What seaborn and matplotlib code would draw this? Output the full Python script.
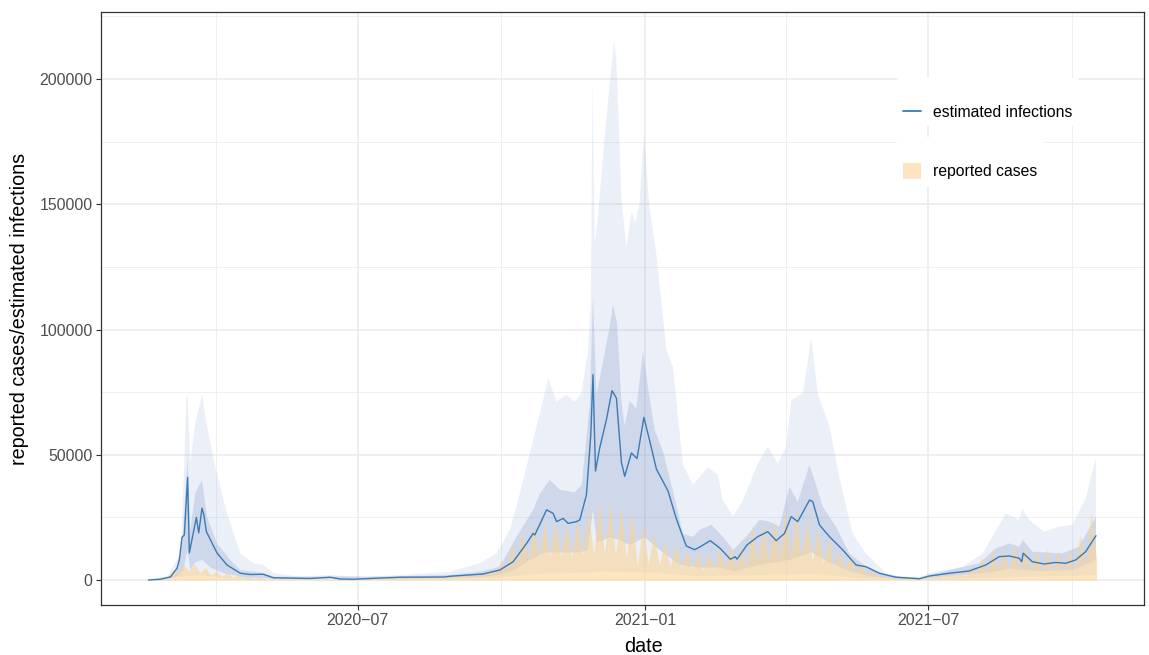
import numpy as np
import pandas as pd
import matplotlib
matplotlib.use("Agg")
import matplotlib.pyplot as plt
import matplotlib.dates as mdates
from matplotlib.lines import Line2D
from matplotlib.patches import Patch
import seaborn as sns

# Series start (day 0); all *_day lists are day offsets from it
start = pd.Timestamp("2020-02-18")

# Estimated infections (median line)
line_day = [0, 7.7, 14.1, 18.3, 19.8, 21.5, 23.0, 25.1, 26.2, 30.7, 32.2, 34.3, 35.5, 37.1,
            43.9, 50.3, 58.8, 65.2, 73.5, 79.9, 103.6, 116.3, 122.7, 131.0, 161.1, 189.9,
            193.0, 214.3, 225.0, 233.5, 242.1, 246.3, 247.4, 254.9, 259.1, 261.3, 265.5,
            268.7, 274.0, 276.2, 280.4, 283.2, 284.6, 286.2, 288.9, 293.2, 296.8, 299.6,
            302.8, 304.9, 309.2, 312.8, 317.2, 320.9, 325.2, 332.6, 338.0, 344.3, 349.7,
            353.3, 359.7, 366.1, 372.5, 375.7, 376.8, 383.2, 390.1, 396.5, 401.9, 407.2,
            411.5, 415.7, 423.2, 425.3, 429.6, 436.0, 444.5, 453.0, 459.4, 467.9, 478.6,
            493.5, 499.9, 512.7, 525.4, 536.1, 544.6, 551.0, 557.4, 559.1, 560.0, 565.9,
            573.4, 580.9, 587.3, 593.6, 600.0, 606.6]
line_val = [0, 300, 1200, 4700, 8000, 17000, 18000, 41000, 10800, 25000, 18800, 28700, 26000,
            19300, 10800, 6000, 2700, 2200, 2300, 900, 600, 1100, 400, 300, 1100, 1200,
            1500, 2400, 4000, 7300, 14600, 18600, 18000, 28000, 26600, 23300, 24600,
            22600, 23300, 24000, 34000, 58000, 82000, 43500, 52700, 64000, 75600, 72600,
            47000, 41400, 50700, 48500, 64900, 55600, 44300, 35600, 24400, 13600, 12100,
            13300, 15700, 12600, 8300, 9300, 8300, 14000, 17300, 19300, 15700, 18600,
            25300, 23300, 31900, 31300, 22000, 17300, 12000, 6000, 5300, 2700, 1100,
            500, 1600, 2700, 3600, 6000, 9300, 9600, 8700, 7300, 10700, 7300,
            6400, 7000, 6700, 8000, 11300, 17700]

# 90% interval, upper and lower bound
hi90_day = [0, 12.0, 20.5, 22.6, 24.3, 25.1, 26.8, 30.0, 34.3, 37.5, 42.8, 50.3, 58.8, 67.3,
            73.7, 80.1, 97.2, 116.3, 139.8, 161.1, 193.0, 212.2, 222.9, 231.4, 237.8, 244.2,
            250.6, 255.9, 261.3, 267.6, 272.9, 277.2, 281.5, 283.2, 284.3, 285.7, 287.8,
            292.1, 295.3, 298.1, 299.6, 302.8, 306.0, 309.2, 311.9, 314.5, 317.2, 320.9,
            325.2, 331.6, 335.8, 342.2, 348.6, 358.2, 364.5, 367.8, 374.2, 380.6, 390.1,
            396.5, 402.9, 408.3, 411.5, 418.9, 424.3, 428.5, 436.0, 442.3, 450.8, 459.4,
            472.2, 480.7, 493.5, 499.9, 521.2, 534.0, 548.9, 557.4, 559.5, 563.8, 573.4,
            583.0, 591.5, 600.0, 606.6]
hi90_val = [0, 1300, 10600, 40000, 72000, 74000, 46700, 62700, 73900, 61200, 45200, 26600,
            10600, 6700, 6000, 2700, 1300, 2000, 1100, 2000, 3300, 6700, 10600, 20000, 34600,
            50600, 66500, 80500, 71200, 73900, 71200, 74500, 91800, 110000, 199600, 134000,
            145000, 177000, 198000, 215000, 208000, 152500, 132600, 147000, 142600, 151000,
            178000, 148000, 130000, 92000, 85000, 46000, 38000, 45000, 42000, 32000, 25300,
            31900, 46600, 53200, 46600, 53200, 71900, 74500, 96500, 74500, 61200, 41200,
            18600, 10600, 2700, 1300, 1200, 2700, 5300, 10600, 26600, 24000, 28600, 24000,
            19300, 21300, 22000, 32600, 49000]
lo90_day = [0, 23.7, 33.2, 46.0, 65.2, 161.1, 225.0, 250.6, 282.5, 288.9, 320.9, 352.9,
            391.2, 423.2, 455.1, 480.7, 544.6, 606.6]
lo90_val = [0, 1500, 2000, 1000, 300, 300, 1000, 2500, 3000, 3500, 3000, 1500,
            2000, 2500, 800, 200, 1000, 2000]

# 50% interval, upper and lower bound
hi50_day = [0, 17.3, 21.7, 25.1, 26.8, 30.0, 34.3, 37.5, 43.9, 52.4, 58.8, 71.6, 81.2, 116.3,
            161.1, 193.0, 214.1, 225.0, 235.7, 246.3, 250.6, 257.0, 263.4, 272.9, 277.4,
            282.5, 284.6, 286.8, 291.0, 295.3, 297.4, 300.0, 302.8, 304.9, 308.1, 312.4,
            316.6, 319.8, 324.1, 329.4, 335.8, 342.2, 348.6, 352.9, 360.4, 367.8, 374.2,
            382.7, 391.2, 397.6, 404.0, 410.4, 415.7, 423.2, 426.4, 431.7, 440.2, 448.7,
            459.4, 472.2, 493.5, 499.9, 531.8, 542.5, 551.0, 557.4, 560.0, 565.9, 585.1,
            595.8, 606.6]
hi50_val = [0, 2000, 15000, 49000, 20000, 34700, 40000, 25300, 14600, 8000, 4000, 3000, 1300,
            1400, 1500, 2000, 3500, 5300, 17300, 28000, 34600, 40000, 36000, 35000, 38000,
            70000, 114000, 74000, 87000, 101000, 110000, 102600, 71500, 61500, 71500, 68400,
            91400, 77000, 60000, 51300, 35600, 18500, 17200, 20000, 22000, 17300, 12000,
            17300, 24000, 23300, 21300, 37300, 31300, 45900, 39900, 29300, 21300, 10600,
            5300, 2000, 800, 2000, 6700, 12600, 14600, 13300, 16000, 11300, 10600,
            13300, 25300]
lo50_day = [0, 17.3, 22.4, 25.1, 26.8, 30.0, 34.5, 39.6, 49.2, 62.0, 84.4, 161.1, 193.0,
            212.2, 225.0, 234.6, 244.2, 253.8, 263.4, 276.2, 281.3, 284.6, 287.0, 295.3,
            301.7, 308.1, 317.8, 327.3, 340.1, 352.9, 365.6, 375.2, 391.2, 410.4, 424.4,
            436.0, 448.7, 461.5, 480.7, 499.9, 538.2, 551.0, 570.2, 592.6, 606.6]
lo50_val = [0, 1000, 4000, 12000, 4000, 7000, 8000, 5000, 2500, 1000, 500, 600, 800,
            1200, 2000, 4000, 8000, 11000, 11000, 11000, 12000, 28000, 15000, 17000,
            16000, 14000, 17000, 12000, 6000, 5000, 5000, 3500, 6000, 8000, 11000,
            7000, 3500, 1500, 400, 800, 3000, 4500, 3500, 4000, 8000]

# Reported cases: weekly high (weekday) and low (weekend) values, 87 weeks
rep_peak = [200, 1000, 4000, 6000, 6500, 5000, 3500, 2800, 2000, 1300,
            1000, 800, 700, 600, 500, 500, 500, 500, 600, 600,
            800, 900, 1200, 1400, 1600, 1800, 2000, 2300, 2500, 2700,
            2900, 4700, 8000, 14000, 20000, 22000, 23300, 23300, 22600, 24000,
            28500, 31400, 32000, 30000, 28000, 22800, 19200, 15700, 14300, 12100,
            11400, 11400, 13600, 14000, 14000, 22000, 22600, 24600, 28000, 28000,
            25300, 20600, 17300, 12000, 10000, 6700, 4000, 2000, 1300, 1000,
            1000, 1500, 2000, 2700, 3300, 5600, 9000, 12600, 12600, 14600,
            13300, 12000, 12600, 12000, 12600, 18600, 27300]
rep_trough = [100, 800, 3000, 3500, 3000, 2000, 1500, 1000, 800, 600,
              500, 400, 300, 300, 300, 300, 300, 300, 300, 300,
              400, 500, 600, 700, 800, 900, 1000, 1100, 1200, 1400,
              1600, 2500, 4000, 6500, 8000, 9000, 9500, 9500, 9000, 9500,
              10000, 10500, 9500, 8500, 5500, 6000, 6000, 5500, 5000, 4500,
              4000, 4000, 4500, 5000, 5500, 7000, 7500, 8500, 9000, 8500,
              7500, 6500, 5000, 4000, 3000, 2000, 1200, 800, 600, 500,
              600, 800, 1000, 1300, 1600, 2500, 3500, 4000, 4000, 4000,
              3800, 3500, 3500, 3500, 4000, 6000, 8000]

# Axis breaks and labels
x_major = ["2020-07-01", "2021-01-01", "2021-07-01"]
x_major_labels = ["2020\u221207", "2021\u221201", "2021\u221207"]
x_minor = ["2020-04-01", "2020-10-01", "2021-04-01", "2021-10-01"]
y_major = [0, 50000, 100000, 150000, 200000]
y_minor = [25000, 75000, 125000, 175000, 225000]

line_color = "#3A7AB5"
ribbon90_color = "#6C8CCB"
ribbon50_color = "#778CC2"
orange = "#FAD496"


def to_dates(days):
    return start + pd.to_timedelta(np.asarray(days, dtype=float), unit="D")


def add_band(ax, up_day, up_val, lo_day, lo_val, color, alpha, zorder):
    xs = np.concatenate([mdates.date2num(to_dates(up_day)),
                         mdates.date2num(to_dates(lo_day))[::-1]])
    ys = np.concatenate([np.asarray(up_val, float), np.asarray(lo_val, float)[::-1]])
    ax.fill(xs, ys, color=color, alpha=alpha, lw=0, zorder=zorder)


sns.set_theme(style="white")
plt.rcParams["font.family"] = ["Liberation Sans", "DejaVu Sans"]

fig = plt.figure(figsize=(11.49, 6.55), dpi=100, facecolor="white")
ax = fig.add_axes([101 / 1149, 50 / 655, 1043 / 1149, 593 / 655])

# Median line
line_df = pd.DataFrame({"date": to_dates(line_day), "value": line_val})
sns.lineplot(data=line_df, x="date", y="value", color=line_color, lw=1.0,
             estimator=None, ax=ax, zorder=5)

# Credible intervals
add_band(ax, hi90_day, hi90_val, lo90_day, lo90_val, ribbon90_color, 0.13, 1)
add_band(ax, hi50_day, hi50_val, lo50_day, lo50_val, ribbon50_color, 0.24, 2)

# Reported cases (weekly high / low alternating every half week)
rep_dates = pd.date_range(start + pd.Timedelta(hours=36), periods=2 * len(rep_peak), freq="84h")
rep_vals = np.ravel(np.column_stack([rep_peak, rep_trough]))
ax.fill_between(rep_dates, 0, rep_vals, color=orange, alpha=0.6, lw=0, zorder=3)

# Scales
ax.set_xlim(to_dates([-30.35])[0], to_dates([637.35])[0])
ax.set_ylim(-9980, 226750)
ax.set_xticks(pd.to_datetime(x_major))
ax.set_xticklabels(x_major_labels)
ax.set_xticks(pd.to_datetime(x_minor), minor=True)
ax.set_yticks(y_major)
ax.set_yticklabels([str(v) for v in y_major])
ax.set_yticks(y_minor, minor=True)

# theme_bw look
ax.set_axisbelow(True)
ax.grid(True, which="major", color="#EBEBEB", lw=1.1)
ax.grid(True, which="minor", color="#EBEBEB", lw=0.55)
for s in ax.spines.values():
    s.set_color("#333333")
    s.set_linewidth(0.9)
ax.tick_params(which="major", length=3.5, width=0.8, color="#333333",
               labelcolor="#4D4D4D", labelsize=11.4, pad=2.5,
               bottom=True, left=True)
ax.tick_params(which="minor", length=0, bottom=False, left=False)

ax.set_xlabel("date", fontsize=14.2, color="black", va="center")
ax.xaxis.set_label_coords((643 - 101) / 1043, (605 - 646) / 593)
ax.set_ylabel("reported cases/estimated infections", fontsize=14.2, color="black", va="center")
ax.yaxis.set_label_coords((20 - 101) / 1043, 0.5)

# Two separate legend boxes, as in the reference
leg_kw = dict(loc="upper left", frameon=True, fontsize=11.3, title=" ", title_fontsize=9,
              borderpad=0.4, handlelength=1.15, handleheight=1.15, handletextpad=0.76,
              borderaxespad=0, labelcolor="black")
leg1 = ax.legend(handles=[Line2D([], [], color=line_color, lw=1.3)],
                 labels=["estimated infections"], bbox_to_anchor=(0.763, 0.889), **leg_kw)
leg1.get_frame().set_facecolor("white")
leg1.get_frame().set_edgecolor("none")
leg1.get_frame().set_alpha(1)
ax.add_artist(leg1)
leg2 = ax.legend(handles=[Patch(facecolor=orange, alpha=0.6, lw=0)],
                 labels=["reported cases"], bbox_to_anchor=(0.763, 0.789), **leg_kw)
leg2.get_frame().set_facecolor("white")
leg2.get_frame().set_edgecolor("none")
leg2.get_frame().set_alpha(1)

fig.savefig("out.png", dpi=100, facecolor="white")
